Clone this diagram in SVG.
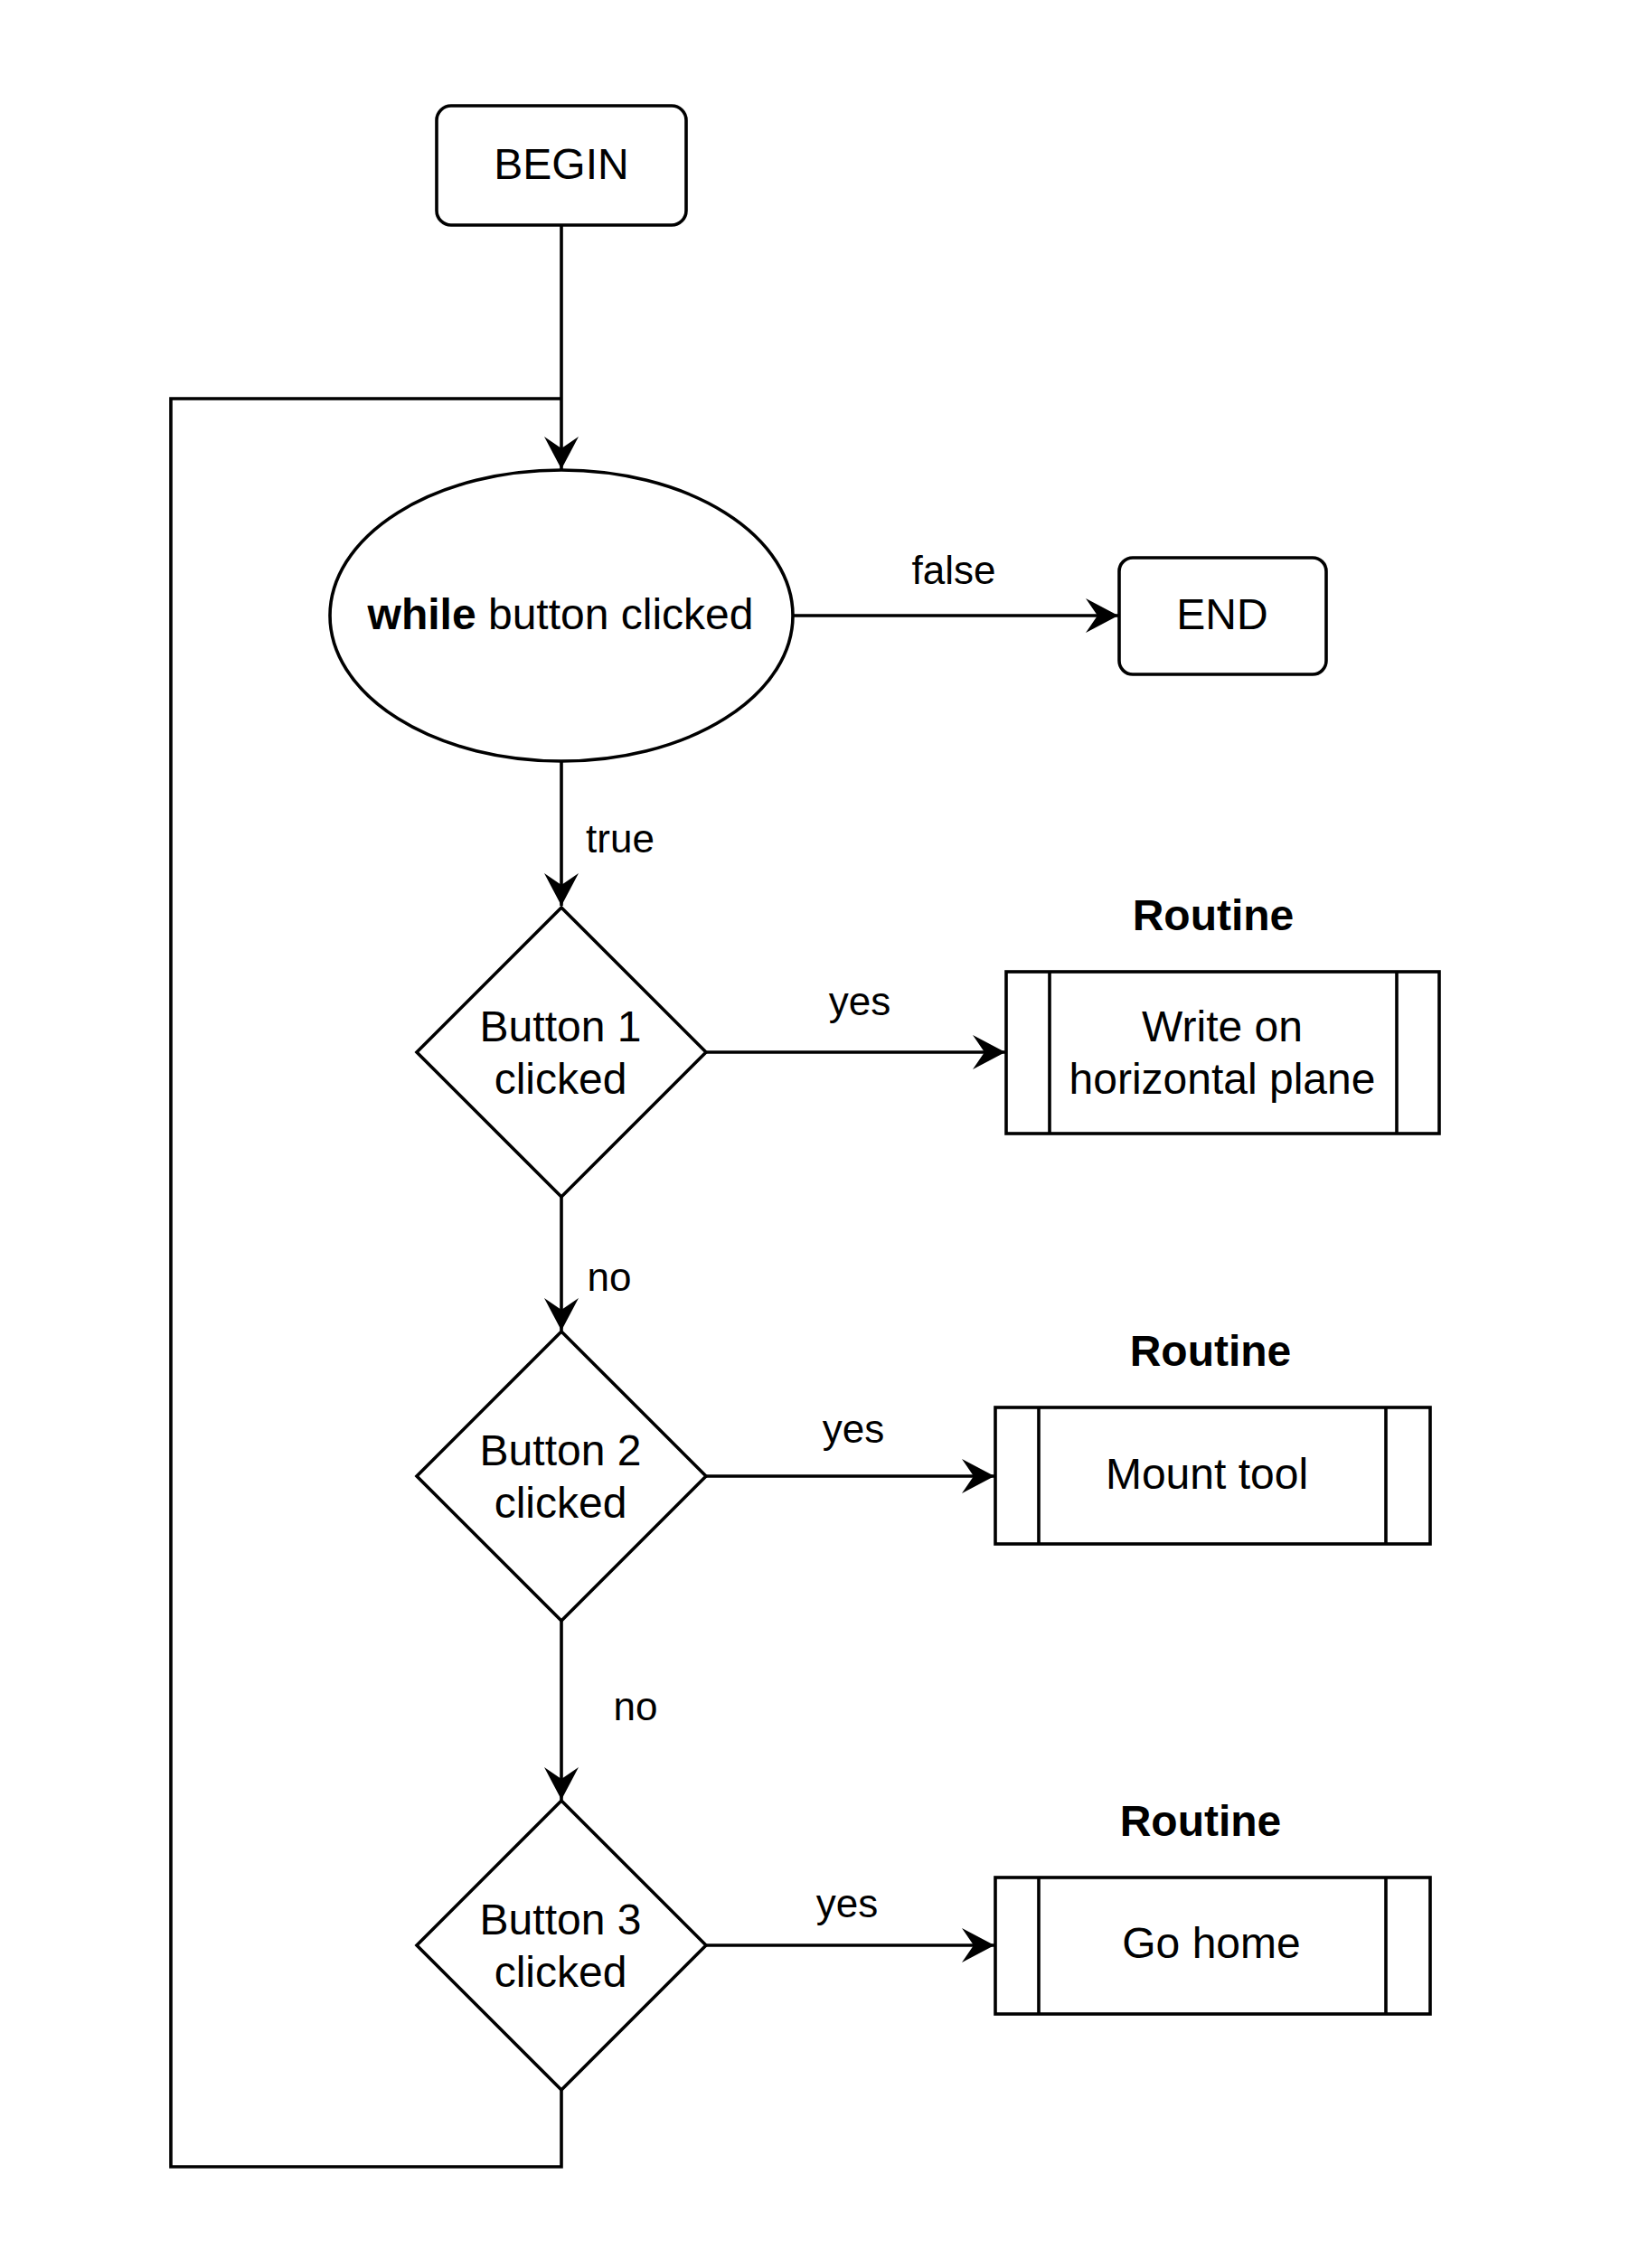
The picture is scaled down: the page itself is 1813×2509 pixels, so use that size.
<svg xmlns="http://www.w3.org/2000/svg" width="1813" height="2509" viewBox="0 0 1813 2509">
<style>
.shape{fill:#fff;stroke:#000;stroke-width:3.6}
.line{fill:none;stroke:#000;stroke-width:3.6}
.t{font-family:"Liberation Sans",Arial,sans-serif;font-size:48px;fill:#000;text-anchor:middle}
.lbl{font-family:"Liberation Sans",Arial,sans-serif;font-size:44px;fill:#000;text-anchor:middle}
.b{font-weight:bold}
</style>
<defs>
<marker id="arrow" markerUnits="userSpaceOnUse" viewBox="0 0 37 38" markerWidth="37" markerHeight="38" refX="36" refY="19" orient="auto">
<path d="M36,19 L0,0 L13,19 L0,38 Z" fill="#000"/>
</marker>
</defs>
<rect width="1813" height="2509" fill="#fff"/>

<g id="connectors">
<path class="line" d="M621,249 L621,519" marker-end="url(#arrow)"/>
<path class="line" d="M877,681 L1237,681" marker-end="url(#arrow)"/>
<path class="line" d="M621,842 L621,1002" marker-end="url(#arrow)"/>
<path class="line" d="M781,1164 L1112,1164" marker-end="url(#arrow)"/>
<path class="line" d="M621,1324 L621,1472" marker-end="url(#arrow)"/>
<path class="line" d="M781,1633 L1100,1633" marker-end="url(#arrow)"/>
<path class="line" d="M621,1793 L621,1991" marker-end="url(#arrow)"/>
<path class="line" d="M781,2152 L1100,2152" marker-end="url(#arrow)"/>
<path class="line" d="M621,2312 L621,2397 L189,2397 L189,441 L621,441"/>
<text class="lbl" x="1055" y="646">false</text>
<text class="lbl" x="686" y="943">true</text>
<text class="lbl" x="951" y="1123">yes</text>
<text class="lbl" x="674" y="1428">no</text>
<text class="lbl" x="944" y="1596">yes</text>
<text class="lbl" x="703" y="1903">no</text>
<text class="lbl" x="937" y="2121">yes</text>
</g>

<g id="begin">
<rect class="shape" x="483" y="117" width="276" height="132" rx="16" ry="16"/>
<text class="t" x="621" y="198">BEGIN</text>
</g>

<g id="while">
<ellipse class="shape" cx="621" cy="681" rx="256" ry="161"/>
<text class="t" x="620" y="696"><tspan class="b">while</tspan> button clicked</text>
</g>

<g id="end">
<rect class="shape" x="1238" y="617" width="229" height="129" rx="15" ry="15"/>
<text class="t" x="1352" y="696">END</text>
</g>

<g id="button1">
<path class="shape" d="M621,1004 L781,1164 L621,1324 L461,1164 Z"/>
<text class="t" x="620" y="1152">Button 1</text>
<text class="t" x="620" y="1210">clicked</text>
</g>

<g id="routine1">
<text class="t b" x="1342" y="1029">Routine</text>
<rect class="shape" x="1113" y="1075" width="479" height="179"/>
<path class="line" d="M1161,1075 L1161,1254 M1545,1075 L1545,1254"/>
<text class="t" x="1352" y="1152">Write on</text>
<text class="t" x="1352" y="1210">horizontal plane</text>
</g>

<g id="button2">
<path class="shape" d="M621,1473 L781,1633 L621,1793 L461,1633 Z"/>
<text class="t" x="620" y="1621">Button 2</text>
<text class="t" x="620" y="1679">clicked</text>
</g>

<g id="routine2">
<text class="t b" x="1339" y="1511">Routine</text>
<rect class="shape" x="1101" y="1557" width="481" height="151"/>
<path class="line" d="M1149,1557 L1149,1708 M1533,1557 L1533,1708"/>
<text class="t" x="1335" y="1647">Mount tool</text>
</g>

<g id="button3">
<path class="shape" d="M621,1992 L781,2152 L621,2312 L461,2152 Z"/>
<text class="t" x="620" y="2140">Button 3</text>
<text class="t" x="620" y="2198">clicked</text>
</g>

<g id="routine3">
<text class="t b" x="1328" y="2031">Routine</text>
<rect class="shape" x="1101" y="2077" width="481" height="151"/>
<path class="line" d="M1149,2077 L1149,2228 M1533,2077 L1533,2228"/>
<text class="t" x="1340" y="2166">Go home</text>
</g>
</svg>
